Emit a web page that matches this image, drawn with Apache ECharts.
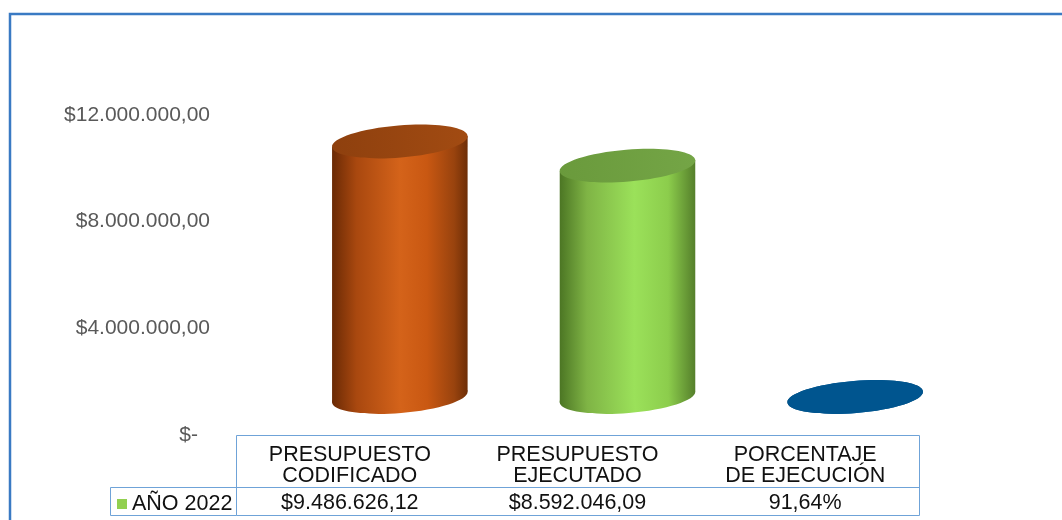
<!DOCTYPE html>
<html><head><meta charset="utf-8">
<script src="https://cdn.jsdelivr.net/npm/echarts@6/dist/echarts.min.js"></script>
<style>html,body{margin:0;padding:0;background:#fff}#c{width:1062px;height:520px}</style>
</head><body><div id="c"></div>
<script>
// ---- data ----
const categories = ['PRESUPUESTO\nCODIFICADO', 'PRESUPUESTO\nEJECUTADO', 'PORCENTAJE\nDE EJECUCIÓN'];
const seriesName = 'AÑO 2022';
const values = [9486626.12, 8592046.09, 0.9164];
const valueKinds = ['money', 'money', 'percent'];
const yTicks = [0, 4000000, 8000000, 12000000];

// ---- formatting ----
function fmtMoney(v) {
  const s = v.toFixed(2).split('.');
  return '$' + s[0].replace(/\B(?=(\d{3})+(?!\d))/g, '.') + ',' + s[1];
}
function fmtPct(v) { return (v * 100).toFixed(2).replace('.', ',') + '%'; }
const tableRow = values.map((v, i) => valueKinds[i] === 'percent' ? fmtPct(v) : fmtMoney(v));

// ---- styles ----
const STYLES = [
  { body: [{offset:0,color:'#6a2a05'},{offset:0.18,color:'#a9480f'},{offset:0.5,color:'#d4631a'},{offset:0.7,color:'#c95812'},{offset:0.9,color:'#99430e'},{offset:1,color:'#6e2e07'}],
    top: [{offset:0,color:'#8e400e'},{offset:1,color:'#a24b12'}] },
  { body: [{offset:0,color:'#4c7624'},{offset:0.2,color:'#7fb445'},{offset:0.55,color:'#9be15a'},{offset:0.8,color:'#8ccd4c'},{offset:1,color:'#557f2b'}],
    top: [{offset:0,color:'#6a9a3c'},{offset:1,color:'#74a546'}] },
  { body: [{offset:0,color:'#00446f'},{offset:0.5,color:'#0a66a8'},{offset:1,color:'#00446f'}],
    top: [{offset:0,color:'#00558f'},{offset:1,color:'#00558f'}] }
];
const FONT = '"Liberation Sans", Arial, sans-serif';

function renderItem(params, api) {
  const i = api.value(0), v = api.value(1);
  const p0 = api.coord([i, 0]), p1 = api.coord([i, v]);
  const cx = p0[0] + 50;
  const by = p0[1] - 38;
  const ty = by - (p0[1] - p1[1]) * 1.01;
  const rx = 68, ry = 16, th = 4.7 * Math.PI / 180;
  const a = rx * Math.cos(th), b = rx * Math.sin(th);
  const st = STYLES[i];
  const grad = new echarts.graphic.LinearGradient(0, 0, 1, 0, st.body);
  const topGrad = new echarts.graphic.LinearGradient(0, 0, 1, 0, st.top);
  return { type: 'group', children: [
    { type: 'ellipse', shape: {cx: 0, cy: 0, rx: rx, ry: ry}, x: cx, y: by, rotation: th, style: {fill: grad} },
    { type: 'polygon', shape: {points: [[cx - a, ty + b], [cx + a, ty - b], [cx + a, by - b], [cx - a, by + b]]}, style: {fill: grad} },
    { type: 'ellipse', shape: {cx: 0, cy: 0, rx: rx, ry: ry}, x: cx, y: ty, rotation: th, style: {fill: topGrad} }
  ]};
}

const chart = echarts.init(document.getElementById('c'));
const lineStyle = { stroke: '#6fa3d8', lineWidth: 1 };
chart.setOption({
  backgroundColor: '#fff',
  animation: false,
  grid: { left: 236, right: 143, top: 115, bottom: 85 },
  legend: {
    data: [{ name: seriesName, icon: 'rect', itemStyle: { color: '#92d050' } }],
    left: 117, top: 493, padding: 0, itemWidth: 10, itemHeight: 10, itemGap: 5,
    textStyle: { fontSize: 21.5, color: '#111', fontFamily: FONT }
  },
  xAxis: [
    { type: 'category', data: categories, position: 'bottom',
      axisLine: {show: false}, axisTick: {show: false}, splitLine: {show: false},
      axisLabel: { interval: 0, margin: 10, fontSize: 21.5, lineHeight: 21, color: '#111', fontFamily: FONT } },
    { type: 'category', data: tableRow, position: 'bottom', offset: 52,
      axisLine: {show: false}, axisTick: {show: false}, splitLine: {show: false},
      axisLabel: { interval: 0, margin: 6, fontSize: 21.5, lineHeight: 20, color: '#111', fontFamily: FONT } }
  ],
  yAxis: {
    type: 'value', min: yTicks[0], max: yTicks[yTicks.length - 1], interval: yTicks[1] - yTicks[0],
    axisLine: {show: false}, axisTick: {show: false}, splitLine: {show: false},
    axisLabel: { margin: 26, fontSize: 21, color: '#595959', fontFamily: FONT,
      formatter: v => v === 0 ? '{z|$-}' : fmtMoney(v),
      rich: { z: { fontSize: 21, color: '#595959', fontFamily: FONT, padding: [0, 12, 0, 0] } } }
  },
  series: [{
    type: 'custom', name: seriesName, xAxisIndex: 0,
    itemStyle: { color: '#92d050' },
    renderItem: renderItem,
    data: values.map((v, i) => [i, v])
  }],
  graphic: [
    { type: 'rect', shape: {x: 10, y: 14, width: 1100, height: 600}, style: {fill: 'none', stroke: '#3a7ac3', lineWidth: 2.5}, silent: true },
    { type: 'rect', shape: {x: 236.5, y: 435.5, width: 683, height: 80}, style: Object.assign({fill: 'none'}, lineStyle), silent: true },
    { type: 'line', shape: {x1: 110.5, y1: 487.5, x2: 919.5, y2: 487.5}, style: lineStyle, silent: true },
    { type: 'line', shape: {x1: 110.5, y1: 487.5, x2: 110.5, y2: 515.5}, style: lineStyle, silent: true },
    { type: 'line', shape: {x1: 110.5, y1: 515.5, x2: 236.5, y2: 515.5}, style: lineStyle, silent: true }
  ]
});
</script></body></html>
